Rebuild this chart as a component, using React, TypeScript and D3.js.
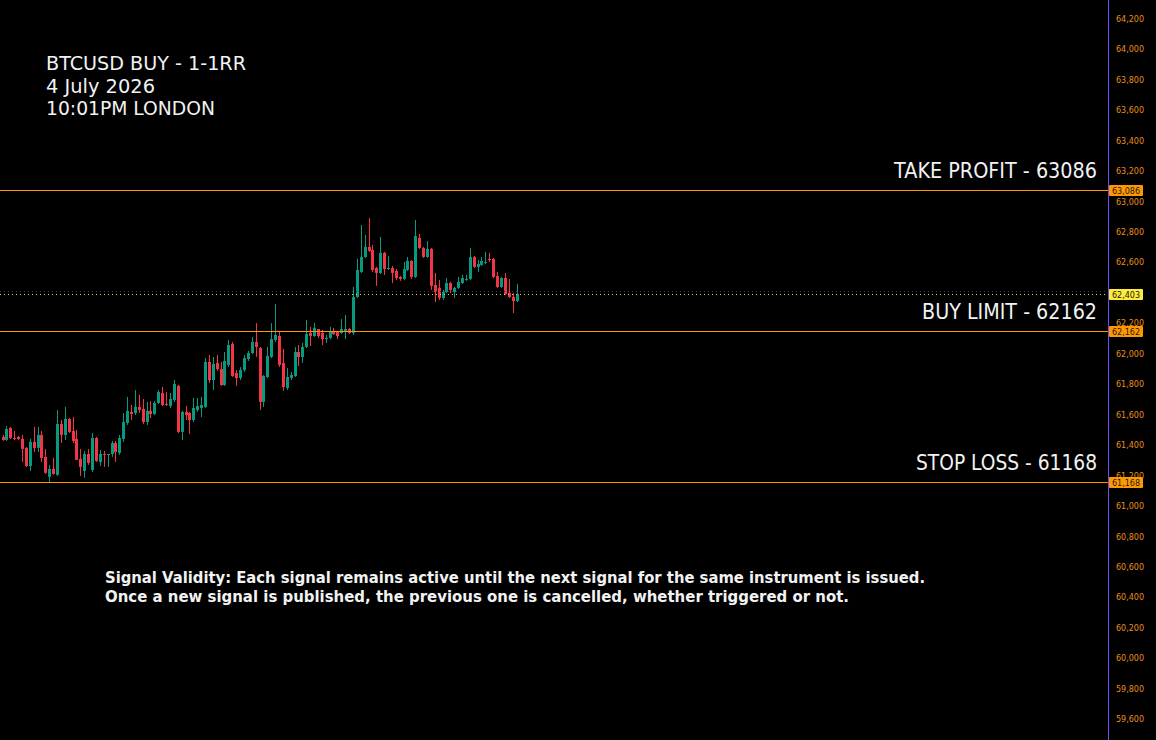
import React from "react";
import * as d3 from "d3";

const opens = [61464,61444,61523,61457,61464,61451,61392,61273,61431,61392,61477,61333,61202,61254,61215,61549,61477,61582,61503,61451,61320,61241,61352,61247,61457,61300,61352,61346,61352,61424,61359,61451,61556,61628,61621,61661,61648,61562,61635,61615,61687,61753,61681,61667,61707,61799,61497,61628,61621,61575,61641,61654,61661,61956,61838,61950,61910,61805,61937,62075,61884,61851,61904,61976,62015,62088,62048,61694,61858,61989,62101,62127,61950,61785,61851,61864,62022,61989,62055,62147,62127,62173,62147,62107,62114,62153,62153,62147,62153,62173,62147,62383,62548,62646,62712,62692,62574,62541,62673,62567,62574,62554,62515,62502,62561,62620,62515,62771,62705,62646,62699,62462,62443,62377,62416,62475,62416,62443,62475,62495,62502,62646,62581,62594,62607,62633,62633,62521,62449,62508,62410,62383,62357];
const highs = [61477,61536,61530,61503,61470,61477,61398,61451,61530,61530,61503,61385,61280,61326,61641,61575,61661,61588,61595,61510,61385,61372,61385,61490,61464,61379,61372,61352,61438,61438,61477,61621,61727,61674,61772,61740,61713,61694,61700,61700,61772,61792,61759,61753,61838,61805,61635,61667,61628,61720,61720,61727,61982,62002,61989,62002,61956,62022,62101,62088,61904,61923,62002,62029,62121,62212,62055,61871,62055,62212,62337,62153,62042,61917,61891,62055,62068,62081,62232,62186,62212,62173,62167,62134,62186,62180,62160,62238,62265,62180,62449,62633,62856,62791,62902,62725,62581,62778,62679,62653,62587,62567,62521,62613,62646,62626,62889,62797,62712,62751,62705,62541,62495,62429,62508,62482,62449,62515,62528,62528,62705,62653,62626,62646,62679,62673,62640,62548,62515,62541,62502,62410,62469];
const lows = [61438,61438,61451,61444,61444,61300,61267,61241,61365,61365,61300,61221,61168,61215,61208,61424,61444,61490,61424,61313,61208,61195,61280,61234,61300,61273,61267,61267,61333,61300,61346,61431,61543,61575,61608,61621,61549,61543,61588,61608,61681,61667,61667,61654,61694,61490,61444,61575,61484,61562,61628,61595,61654,61818,61772,61897,61799,61799,61923,61858,61799,61838,61891,61963,62009,61989,61641,61661,61851,61982,62088,61923,61766,61772,61838,61858,61930,61950,62048,62061,62121,62114,62068,62081,62107,62134,62107,62140,62107,62140,62134,62377,62541,62640,62679,62548,62456,62535,62528,62561,62475,62495,62489,62495,62554,62502,62508,62699,62640,62640,62429,62350,62363,62363,62410,62410,62377,62436,62469,62489,62495,62574,62548,62587,62600,62613,62508,62443,62443,62396,62377,62278,62350];
const closes = [61444,61516,61457,61451,61451,61385,61273,61431,61392,61477,61326,61228,61254,61221,61549,61477,61582,61497,61438,61313,61267,61352,61293,61457,61306,61352,61346,61352,61424,61365,61457,61562,61635,61615,61661,61641,61562,61635,61615,61687,61759,61674,61674,61713,61812,61497,61628,61608,61575,61654,61667,61674,61956,61838,61943,61910,61805,61963,62068,61864,61851,61904,61982,62015,62088,62055,61694,61864,61996,62107,62134,61937,61792,61858,61871,62022,61989,62055,62140,62127,62180,62127,62107,62114,62153,62140,62127,62173,62173,62147,62383,62561,62646,62712,62686,62561,62541,62673,62567,62574,62541,62508,62502,62567,62620,62515,62784,62705,62646,62699,62456,62416,62377,62416,62475,62429,62443,62482,62508,62502,62646,62581,62600,62620,62613,62626,62515,62449,62508,62403,62383,62357,62403];

const axisTicks = d3.range(59600, 64201, 200);

const titleLines = ["BTCUSD BUY - 1-1RR", "4 July 2026", "10:01PM LONDON"];
const levelNames = ["TAKE PROFIT", "BUY LIMIT", "STOP LOSS"];
const levelValues = [63086, 62162, 61168];
const lastPrice = 62403;
const noteLines = [
  "Signal Validity: Each signal remains active until the next signal for the same instrument is issued.",
  "Once a new signal is published, the previous one is cancelled, whether triggered or not.",
];

const W = 1156;
const H = 740;
const AXIS_X = 1108.5;
const UP = "#089981";
const DOWN = "#f23645";
const ORANGE = "#ff9800";

export default function App() {
  const y = d3.scaleLinear().domain([59600, 64200]).range([720.7, 20.4]);
  const x = d3.scaleLinear().domain([0, opens.length - 1]).range([2.5, 516.5]);
  const fmt = d3.format(",");
  const levelTextW = [203, 175, 181];
  const titleW = [200, 109, 169];
  const noteW = [820, 744];
  // tick labels fully hidden by the current-price box are not drawn
  const visibleTicks = axisTicks.filter((v) => Math.abs(y(v) - y(lastPrice)) > 4);

  return (
    <svg
      width={W}
      height={H}
      style={{ position: "fixed", left: 0, top: 0, background: "#000", display: "block" }}
    >
      <rect x={0} y={0} width={W} height={H} fill="#000" />
      {opens.map((o, i) => {
        const c = closes[i];
        const cx = Math.round(x(i)) + 0.5;
        const col = c >= o ? UP : DOWN;
        const top = y(Math.max(o, c));
        const bot = y(Math.min(o, c));
        return (
          <g key={i}>
            <line x1={cx} x2={cx} y1={y(highs[i])} y2={y(lows[i])} stroke={col} strokeWidth={1} />
            <rect x={cx - 1.5} y={top} width={3} height={Math.max(1, bot - top)} fill={col} />
          </g>
        );
      })}
      <line x1={0} x2={AXIS_X} y1={Math.round(y(lastPrice + 22)) + 0.5} y2={Math.round(y(lastPrice + 22)) + 0.5} stroke="#27306e" strokeDasharray="1 3" />
      <line x1={0} x2={AXIS_X} y1={Math.round(y(lastPrice)) + 0.5} y2={Math.round(y(lastPrice)) + 0.5} stroke="#e8d84a" strokeDasharray="1 3" />
      {levelValues.map((v, i) => (
        <line key={i} x1={0} x2={AXIS_X} y1={Math.round(y(v)) + 0.5} y2={Math.round(y(v)) + 0.5} stroke={ORANGE} strokeWidth={1} />
      ))}
      {levelValues.map((v, i) => (
        <text
          key={i}
          x={1097 - levelTextW[i]}
          y={Math.round(y(v)) - 12}
          fill="#f2f2f2"
          fontFamily="DejaVu Sans, sans-serif"
          fontSize={21}
          textLength={levelTextW[i]}
          lengthAdjust="spacingAndGlyphs"
        >
          {`${levelNames[i]} - ${v}`}
        </text>
      ))}
      {titleLines.map((t, i) => (
        <text
          key={i}
          x={46}
          y={70 + i * 22.5}
          fill="#f2f2f2"
          fontFamily="DejaVu Sans, sans-serif"
          fontSize={20}
          textLength={titleW[i]}
          lengthAdjust="spacingAndGlyphs"
        >
          {t}
        </text>
      ))}
      {noteLines.map((t, i) => (
        <text
          key={i}
          x={105}
          y={583 + i * 18.5}
          fill="#f2f2f2"
          fontFamily="DejaVu Sans, sans-serif"
          fontWeight="bold"
          fontSize={15}
          textLength={noteW[i]}
          lengthAdjust="spacingAndGlyphs"
        >
          {t}
        </text>
      ))}
      <line x1={AXIS_X} x2={AXIS_X} y1={0} y2={H} stroke="#6b4cf5" strokeWidth={1} />
      {visibleTicks.map((v) => (
        <text
          key={v}
          x={1116}
          y={y(v) - 1}
          dominantBaseline="middle"
          fill="#e8901c"
          fontFamily="DejaVu Sans, sans-serif"
          fontSize={8}
        >
          {fmt(v)}
        </text>
      ))}
      {[...levelValues, lastPrice].map((v, i) => {
        const cy = Math.round(y(v)) + 0.5;
        const fill = i === 3 ? "#ffeb3b" : ORANGE;
        return (
          <g key={i}>
            <rect x={AXIS_X + 0.5} y={cy - 5.5} width={34} height={11} fill={fill} rx={1} />
            <text
              x={AXIS_X + 17.5}
              y={cy + 0.5}
              textAnchor="middle"
              dominantBaseline="middle"
              fill="#1a1a1a"
              fontFamily="DejaVu Sans, sans-serif"
              fontSize={8}
            >
              {fmt(v)}
            </text>
          </g>
        );
      })}
    </svg>
  );
}
